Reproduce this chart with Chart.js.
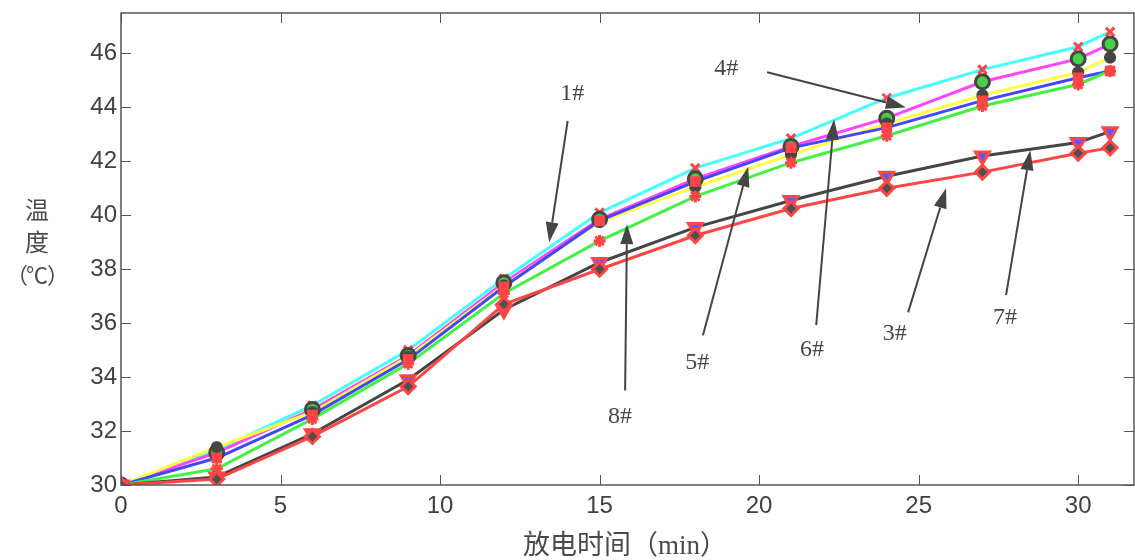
<!DOCTYPE html>
<html>
<head>
<meta charset="utf-8" />
<title>温度曲线</title>
<script src="https://cdn.jsdelivr.net/npm/chart.js@4.4.0/dist/chart.umd.min.js"></script>
<style>
  html, body { margin: 0; padding: 0; background: #fff; overflow: hidden; }
  #wrap { width: 1135px; height: 560px; }
  canvas { display: block; }
</style>
</head>
<body>
<div id="wrap"><canvas id="tempChart" width="1135" height="560"></canvas></div>
<script>
// discharge time, min
const minutes = [0, 3, 6, 9, 12, 15, 18, 21, 24, 27, 30, 31];

// temperature per cell, degC
const cyanTemps    = [30, 31.3, 32.95, 35.0, 37.65, 40.1, 41.75, 42.85, 44.35, 45.4, 46.25, 46.8];
const magentaTemps = [30, 31.2, 32.8, 34.8, 37.5, 39.85, 41.35, 42.55, 43.6, 44.95, 45.8, 46.35];
const yellowTemps  = [30, 31.4, 32.7, 34.75, 37.4, 39.75, 41.05, 42.25, 43.4, 44.45, 45.3, 45.85];
const blueTemps    = [30, 31.0, 32.6, 34.65, 37.35, 39.8, 41.25, 42.5, 43.25, 44.25, 45.1, 45.35];
const greenTemps   = [30, 30.6, 32.45, 34.5, 37.1, 39.05, 40.7, 41.95, 42.95, 44.05, 44.85, 45.35];
const darkTemps    = [30, 30.3, 31.9, 33.9, 36.5, 38.25, 39.55, 40.55, 41.45, 42.2, 42.7, 43.1];
const redTemps     = [30, 30.22, 31.8, 33.65, 36.7, 38.0, 39.25, 40.25, 41.0, 41.6, 42.3, 42.5];

const xTicks = [0, 5, 10, 15, 20, 25, 30];
const yTicks = [30, 32, 34, 36, 38, 40, 42, 44, 46];

// callouts, in data units: label spot, arrow tail, arrow tip
const callouts = [
  { text: '1#', at: [14.14, 44.5],  from: [14.0, 43.5],  to: [13.42, 39.0] },
  { text: '4#', at: [18.97, 45.45], from: [20.25, 45.3], to: [24.6, 44.0] },
  { text: '8#', at: [15.64, 32.55], from: [15.8, 33.5],  to: [15.86, 39.67] },
  { text: '5#', at: [18.06, 34.55], from: [18.24, 35.55], to: [19.66, 41.8] },
  { text: '6#', at: [21.66, 35.0],  from: [21.79, 35.93], to: [22.35, 43.56] },
  { text: '3#', at: [24.25, 35.6],  from: [24.67, 36.4], to: [25.86, 41.0] },
  { text: '7#', at: [27.71, 36.2],  from: [27.74, 37.04], to: [28.5, 42.41] }
];

const INK = '#454545';
const RED = '#ff4545';

const series = [
  { name: '3#', values: redTemps, color: RED,
    marker: { style: 'rectRot', radius: 7, fill: '#505050', edge: RED, width: 3 } },
  { name: '7#', values: darkTemps, color: INK,
    marker: { style: 'triangle', rotation: 180, radius: 8, fill: '#5a5aff', edge: RED, width: 3 } },
  { name: '8#', values: greenTemps, color: '#45f045',
    marker: { style: 'star', radius: 6, fill: RED, edge: RED, width: 3 } },
  { name: '5#', values: blueTemps, color: '#4545ff',
    marker: { style: 'rect', radius: 6, fill: RED, edge: RED, width: 2 } },
  { name: '4#', values: yellowTemps, color: '#ffff45',
    marker: { style: 'star', radius: 6, fill: INK, edge: INK, width: 4 } },
  { name: '1#', values: magentaTemps, color: '#ff45ff',
    marker: { style: 'circle', radius: 7, fill: '#45d045', edge: INK, width: 3 } },
  { name: '6#', values: cyanTemps, color: '#45ffff',
    marker: { style: 'crossRot', radius: 6, fill: RED, edge: RED, width: 3 } }
];

const lineSets = series.map(s => ({
  label: s.name,
  data: minutes.map((m, i) => ({ x: m, y: s.values[i] })),
  borderColor: s.color,
  borderWidth: 3,
  pointRadius: 0,
  tension: 0,
  order: 2
}));

const markerSets = series.map(s => ({
  label: s.name + ' pts',
  data: minutes.map((m, i) => ({ x: m, y: s.values[i] })),
  showLine: false,
  pointStyle: s.marker.style,
  pointRotation: s.marker.rotation || 0,
  pointRadius: s.marker.radius,
  pointBackgroundColor: s.marker.fill,
  pointBorderColor: s.marker.edge,
  pointBorderWidth: s.marker.width,
  order: 1
}));

function noOverhang(scale) {
  scale.paddingTop = 0;
  scale.paddingBottom = 0;
  scale.paddingLeft = 0;
  scale.paddingRight = 0;
}

const frame = {
  id: 'frame',
  afterDraw(chart) {
    const { ctx, chartArea: a, scales: { x, y } } = chart;
    ctx.save();
    ctx.strokeStyle = '#555';
    ctx.lineWidth = 1.5;
    ctx.strokeRect(a.left, a.top, a.right - a.left, a.bottom - a.top);
    ctx.lineWidth = 1;
    ctx.beginPath();
    xTicks.forEach(v => {
      const px = Math.round(x.getPixelForValue(v)) + 0.5;
      ctx.moveTo(px, a.bottom); ctx.lineTo(px, a.bottom - 10);
      ctx.moveTo(px, a.top); ctx.lineTo(px, a.top + 10);
    });
    yTicks.forEach(v => {
      const py = Math.round(y.getPixelForValue(v)) + 0.5;
      ctx.moveTo(a.left, py); ctx.lineTo(a.left + 10, py);
      ctx.moveTo(a.right, py); ctx.lineTo(a.right - 10, py);
    });
    ctx.stroke();

    // callouts
    ctx.strokeStyle = INK;
    ctx.fillStyle = INK;
    ctx.lineWidth = 2;
    callouts.forEach(c => {
      const x0 = x.getPixelForValue(c.from[0]), y0 = y.getPixelForValue(c.from[1]);
      const x1 = x.getPixelForValue(c.to[0]), y1 = y.getPixelForValue(c.to[1]);
      const ang = Math.atan2(y1 - y0, x1 - x0);
      const len = 20, half = 6.5;
      const bx = x1 - len * Math.cos(ang), by = y1 - len * Math.sin(ang);
      ctx.beginPath();
      ctx.moveTo(x0, y0);
      ctx.lineTo(bx, by);
      ctx.stroke();
      ctx.beginPath();
      ctx.moveTo(x1, y1);
      ctx.lineTo(bx + half * Math.sin(ang), by - half * Math.cos(ang));
      ctx.lineTo(bx - half * Math.sin(ang), by + half * Math.cos(ang));
      ctx.closePath();
      ctx.fill();
      ctx.font = '24px "Liberation Serif", "Times New Roman", serif';
      ctx.textAlign = 'center';
      ctx.textBaseline = 'middle';
      ctx.fillText(c.text, x.getPixelForValue(c.at[0]), y.getPixelForValue(c.at[1]));
    });

    // axis titles
    ctx.fillStyle = '#4a4a4a';
    ctx.textAlign = 'center';
    ctx.textBaseline = 'middle';
    ctx.font = '24px "Noto Sans CJK SC", sans-serif';
    ctx.fillText('温', 37, 210);
    ctx.fillText('度', 37, 242);
    ctx.font = '22px "Noto Sans CJK SC", sans-serif';
    ctx.fillText('（', 17, 275);
    ctx.fillText('℃', 37, 275);
    ctx.fillText('）', 58, 275);
    ctx.font = '27px "Liberation Serif", "Noto Sans CJK SC", serif';
    ctx.fillText('放电时间（min）', 625, 547);
    ctx.restore();
  }
};

new Chart(document.getElementById('tempChart'), {
  type: 'line',
  data: { datasets: lineSets.concat(markerSets) },
  options: {
    responsive: false,
    animation: false,
    layout: { autoPadding: false, padding: { top: 13, right: 1, left: 0, bottom: 0 } },
    plugins: { legend: { display: false }, tooltip: { enabled: false } },
    scales: {
      x: {
        type: 'linear',
        min: 0,
        max: 31.75,
        afterFit(scale) { scale.height = 75; noOverhang(scale); },
        grid: { display: false, drawTicks: false },
        border: { display: false },
        ticks: {
          stepSize: 5,
          includeBounds: false,
          padding: 7,
          color: '#404040',
          font: { family: '"Liberation Sans", Arial, sans-serif', size: 24 }
        }
      },
      y: {
        min: 30,
        max: 47.5,
        afterFit(scale) { scale.width = 121; noOverhang(scale); },
        grid: { display: false, drawTicks: false },
        border: { display: false },
        ticks: {
          stepSize: 2,
          includeBounds: false,
          padding: 4,
          color: '#404040',
          font: { family: '"Liberation Sans", Arial, sans-serif', size: 24 }
        }
      }
    }
  },
  plugins: [frame]
});
</script>
</body>
</html>
